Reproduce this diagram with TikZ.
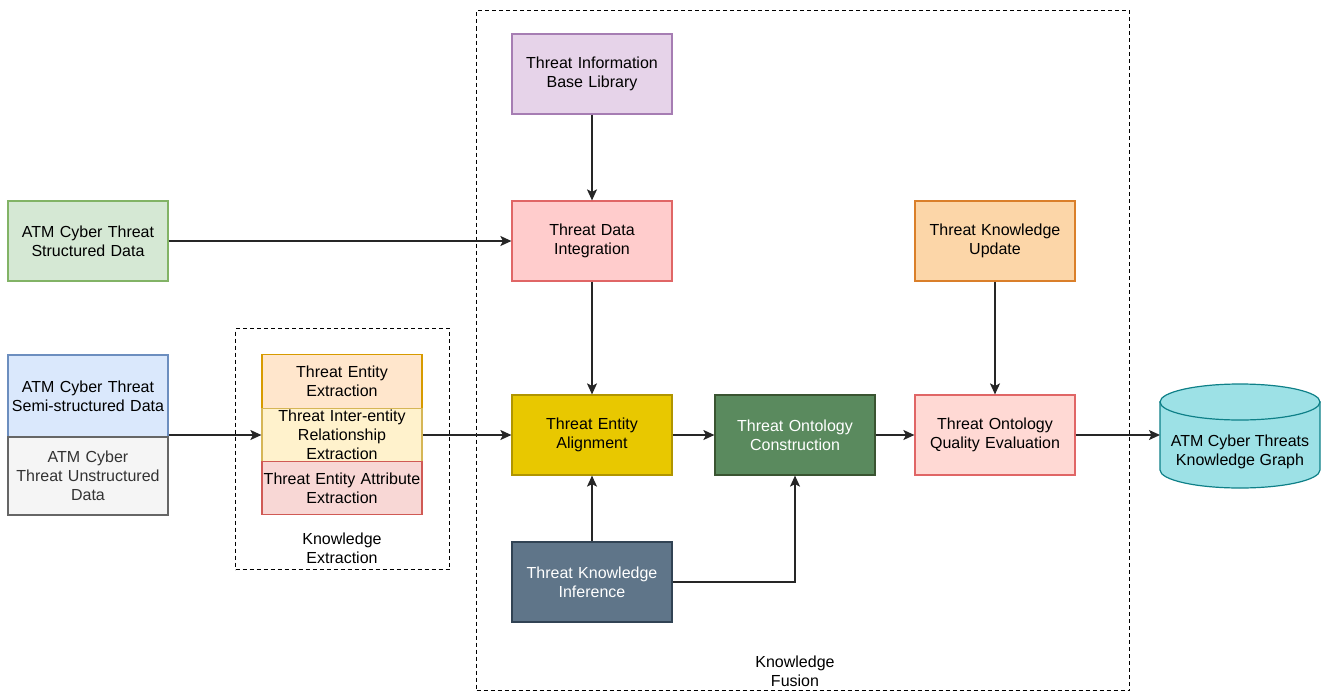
\documentclass[tikz,border=0pt]{standalone}
\usepackage{fontspec}
\setmainfont{Liberation Sans}
\usetikzlibrary{arrows.meta}
\definecolor{grF}{HTML}{D5E8D4}\definecolor{grS}{HTML}{82B366}
\definecolor{blF}{HTML}{DAE8FC}\definecolor{blS}{HTML}{6C8EBF}
\definecolor{gyF}{HTML}{F5F5F5}\definecolor{gyS}{HTML}{666666}\definecolor{gyT}{HTML}{333333}
\definecolor{orF}{HTML}{FFE6CC}\definecolor{orS}{HTML}{D79B00}
\definecolor{ylF}{HTML}{FFF2CC}\definecolor{ylS}{HTML}{D6B656}
\definecolor{pkF}{HTML}{F8D7D5}\definecolor{pkS}{HTML}{D05A55}
\definecolor{puF}{HTML}{E6D3E9}\definecolor{puS}{HTML}{A67DB3}
\definecolor{rdF}{HTML}{FFCCCC}\definecolor{rdS}{HTML}{E06666}
\definecolor{rlF}{HTML}{FFD9D4}
\definecolor{goF}{HTML}{E8C800}\definecolor{goS}{HTML}{B09500}
\definecolor{dgF}{HTML}{5A8A5E}\definecolor{dgS}{HTML}{3A5431}
\definecolor{slF}{HTML}{5F7589}\definecolor{slS}{HTML}{314354}
\definecolor{upF}{HTML}{FCD6A8}\definecolor{upS}{HTML}{DA7F2A}
\definecolor{cyF}{HTML}{9DE1E6}\definecolor{cyS}{HTML}{0E8088}
\begin{document}
\begin{tikzpicture}[x=1pt,y=-1pt,
  every node/.style={font=\fontsize{16}{19.2}\selectfont, align=center, inner sep=0pt},
  box/.style={draw, line width=1.2pt, minimum width=160pt, minimum height=80pt, text width=158pt},
  sbox/.style={draw, line width=1.2pt, minimum width=160pt, minimum height=53.3pt, text width=160pt},
  arr/.style={draw=black!85, line width=1.3pt, -{Triangle[length=11pt,width=10pt,inset=2.5pt]}},
  frame/.style={draw, dashed, line width=1pt, dash pattern=on 4pt off 3pt}]
\useasboundingbox (0,0) rectangle (1326,691);
% frames
\node[frame, minimum width=214pt, minimum height=241pt, anchor=north west] (kef) at (235,328) {};
\node[frame, minimum width=653pt, minimum height=680pt, anchor=north west] (kff) at (476,10) {};
\node (kel) at (342,548) {Knowledge\\Extraction};
\node (kfl) at (795,671) {Knowledge\\Fusion};
% left sources
\node[box, fill=grF, draw=grS] (sd) at (88,241) {ATM Cyber Threat\\Structured Data};
\node[box, fill=blF, draw=blS, minimum height=82pt] (ssd) at (88,396) {ATM Cyber Threat\\Semi-structured Data};
\node[box, fill=gyF, draw=gyS, text=gyT, minimum height=78pt] (ud) at (88,476) {ATM Cyber\\Threat Unstructured\\Data};
% extraction
\node[sbox, fill=orF, draw=orS] (tee) at (342,381.5) {Threat Entity\\Extraction};
\node[sbox, fill=ylF, draw=ylS] (tie) at (342,435) {Threat Inter-entity\\Relationship\\Extraction};
\node[sbox, fill=pkF, draw=pkS] (tea) at (342,488) {Threat Entity Attribute\\Extraction};
% fusion
\node[box, fill=puF, draw=puS] (ibl) at (592,74) {Threat Information\\Base Library};
\node[box, fill=rdF, draw=rdS] (tdi) at (592,241) {Threat Data\\Integration};
\node[box, fill=goF, draw=goS] (tal) at (592,435) {Threat Entity\\Alignment};
\node[box, fill=dgF, draw=dgS, text=white] (toc) at (795,435) {Threat Ontology\\Construction};
\node[box, fill=slF, draw=slS, text=white] (tki) at (592,582) {Threat Knowledge\\Inference};
\node[box, fill=upF, draw=upS] (tku) at (995,241) {Threat Knowledge\\Update};
\node[box, fill=rlF, draw=rdS] (tqe) at (995,435) {Threat Ontology\\Quality Evaluation};
% cylinder
\draw[cyS, line width=1.2pt, fill=cyF] (1160,402) -- (1160,470) arc[start angle=180,end angle=0,x radius=80,y radius=18] -- (1320,402) -- cycle;
\draw[cyS, line width=1.2pt, fill=cyF] (1240,402) ellipse[x radius=80, y radius=18];
\coordinate (kgl) at (1160,435);
\node (kg) at (1240,452) {ATM Cyber Threats\\Knowledge Graph};
% arrows
\draw[arr] (sd.east) -- (tdi.west);
\draw[arr] (ssd.east |- tie.west) -- (tie.west);
\draw[arr] (tie.east) -- (tal.west);
\draw[arr] (ibl.south) -- (tdi.north);
\draw[arr] (tdi.south) -- (tal.north);
\draw[arr] (tki.north) -- (tal.south);
\draw[arr] (tki.east) -| (toc.south);
\draw[arr] (tal.east) -- (toc.west);
\draw[arr] (toc.east) -- (tqe.west);
\draw[arr] (tku.south) -- (tqe.north);
\draw[arr] (tqe.east) -- (kgl);
\end{tikzpicture}
\end{document}
